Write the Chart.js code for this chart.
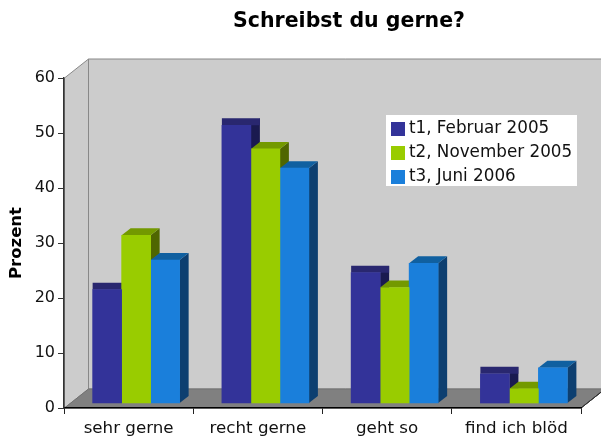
<!DOCTYPE html>
<html>
<head>
<meta charset="utf-8">
<style>
  html, body { margin: 0; padding: 0; background: #fff; }
  canvas { display: block; }
</style>
<script src="https://cdn.jsdelivr.net/npm/chart.js@4"></script>
</head>
<body>
<canvas id="chart" width="601" height="436"></canvas>
<script>
const categories = ['sehr gerne', 'recht gerne', 'geht so', 'find ich blöd']
const seriesNames = ['t1, Februar 2005', 't2, November 2005', 't3, Juni 2006']
const t1Values = [20.6, 50.5, 23.7, 5.3]
const t2Values = [30.5, 46.2, 21, 2.6]
const t3Values = [26, 42.7, 25.4, 6.4]
const faceColors = ['#333399', '#99cc00', '#1a7fdb']
const topColors = ['#29276f', '#739900', '#1060a0']
const sideColors = ['#1a1a50', '#4f6600', '#0d3f70']

const FONT = '"DejaVu Sans", Verdana, sans-serif'
const DEPTH_X = 24, DEPTH_Y = 19      // walls
const BAR_DX = 9, BAR_DY = 7          // bar extrusion
const BAR_SHIFT_X = 7.5 / 129         // bars sit a bit into the floor
const BAR_SHIFT_Y = 5 / 5.5

function poly(ctx, pts, fill, stroke) {
    ctx.beginPath()
    pts.forEach((p, i) => i ? ctx.lineTo(p[0], p[1]) : ctx.moveTo(p[0], p[1]))
    ctx.closePath()
    if (fill) { ctx.fillStyle = fill; ctx.fill() }
    if (stroke) { ctx.strokeStyle = stroke; ctx.lineWidth = 1; ctx.stroke() }
}

// square legend marks, so the text can sit close to them
function swatch(color) {
    const c = document.createElement('canvas')
    c.width = 14
    c.height = 14
    const g = c.getContext('2d')
    g.fillStyle = color
    g.fillRect(0, 0, 14, 14)
    return c
}

const scene3d = {
    id: 'scene3d',
    afterLayout(chart) {
        chart.titleBlock.left = 97
        chart.titleBlock.right = 601
        const lg = chart.legend
        lg.left = 395.5 - lg.options.labels.padding
        lg.top = 113.5
        lg.bottom = 300
    },
    beforeDraw(chart) {
        const { ctx, chartArea: a } = chart
        const l = a.left + 0.5, r = a.right, t = a.top, b = a.bottom
        ctx.save()
        // back wall, left wall, floor
        poly(ctx, [[l + DEPTH_X, t - DEPTH_Y], [chart.width + 5, t - DEPTH_Y], [chart.width + 5, b - DEPTH_Y], [l + DEPTH_X, b - DEPTH_Y]], '#cccccc', '#888888')
        poly(ctx, [[l, t], [l + DEPTH_X, t - DEPTH_Y], [l + DEPTH_X, b - DEPTH_Y], [l, b]], '#cccccc', '#888888')
        poly(ctx, [[l, b], [l + DEPTH_X, b - DEPTH_Y], [r + DEPTH_X, b - DEPTH_Y], [r, b]], '#808080', '#707070')
        poly(ctx, [[r, b], [r + DEPTH_X, b - DEPTH_Y]], null, '#333333')
        // legend background
        ctx.fillStyle = '#ffffff'
        ctx.fillRect(386, 115, 191, 71)
        ctx.restore()
    },
    beforeDatasetsDraw(chart) {
        const { ctx } = chart
        ctx.save()
        // tops and sides go under the fronts that the library draws afterwards
        chart.data.datasets.forEach((ds, d) => {
            chart.getDatasetMeta(d).data.forEach(bar => {
                const x0 = bar.x - bar.width / 2, x1 = bar.x + bar.width / 2
                const y = bar.y, base = bar.base
                poly(ctx, [[x1, y], [x1 + BAR_DX, y - BAR_DY], [x1 + BAR_DX, base - BAR_DY], [x1, base]], sideColors[d])
                // the first series has a square cap in the original
                const capLeft = d === 0 ? x0 : x0 + BAR_DX
                poly(ctx, [[x0, y], [capLeft, y - BAR_DY], [x1 + BAR_DX, y - BAR_DY], [d === 0 ? x1 + BAR_DX : x1, y]], topColors[d])
            })
        })
        ctx.restore()
    }
}

new Chart(document.getElementById('chart').getContext('2d'), {
    type: 'bar',
    data: {
        labels: categories,
        datasets: [t1Values, t2Values, t3Values].map((values, d) => ({
            label: seriesNames[d],
            data: values.map((v, i) => ({ x: i, y: v })),
            backgroundColor: faceColors[d],
            borderWidth: 0,
            xAxisID: 'xBars',
            yAxisID: 'yBars',
            barThickness: 29
        }))
    },
    plugins: [scene3d],
    options: {
        responsive: false,
        animation: false,
        events: [],
        layout: { padding: { right: 20 } },
        plugins: {
            tooltip: { enabled: false },
            title: {
                display: true,
                text: 'Schreibst du gerne?',
                color: '#000000',
                font: { family: FONT, size: 20.5, weight: 'bold' },
                padding: { top: 9, bottom: 44.4 }
            },
            legend: {
                position: 'chartArea',
                align: 'start',
                labels: {
                    color: '#111111',
                    font: { family: FONT, size: 16.8 },
                    usePointStyle: true,
                    pointStyleWidth: 5,
                    boxHeight: 14,
                    padding: 7,
                    generateLabels: () => seriesNames.map((text, d) => ({
                        text,
                        fontColor: '#111111',
                        pointStyle: swatch(faceColors[d]),
                        datasetIndex: d
                    }))
                }
            }
        },
        scales: {
            x: {
                type: 'category',
                offset: true,
                afterFit: s => { s.height = 28 },
                border: { color: '#000000', width: 1.5 },
                grid: { drawOnChartArea: false, color: '#222222', tickLength: 6, offset: true },
                ticks: { color: '#111111', padding: 5, maxRotation: 0, font: { family: FONT, size: 16.7 } }
            },
            y: {
                min: 0,
                max: 60,
                afterFit: s => { s.width = 64 },
                border: { color: '#333333', width: 1.5 },
                grid: { drawOnChartArea: false, color: '#333333', tickLength: 6 },
                ticks: { stepSize: 10, color: '#111111', padding: 3, font: { family: FONT, size: 16 } },
                title: {
                    display: true,
                    text: 'Prozent',
                    color: '#000000',
                    font: { family: FONT, size: 16.5, weight: 'bold' },
                    padding: { top: 7, bottom: 0 }
                }
            },
            xBars: {
                type: 'linear',
                display: false,
                offset: false,
                min: -0.5 - BAR_SHIFT_X,
                max: categories.length - 0.5 - BAR_SHIFT_X
            },
            yBars: {
                type: 'linear',
                display: false,
                min: -BAR_SHIFT_Y,
                max: 60 - BAR_SHIFT_Y
            }
        }
    }
})
</script>
</body>
</html>
